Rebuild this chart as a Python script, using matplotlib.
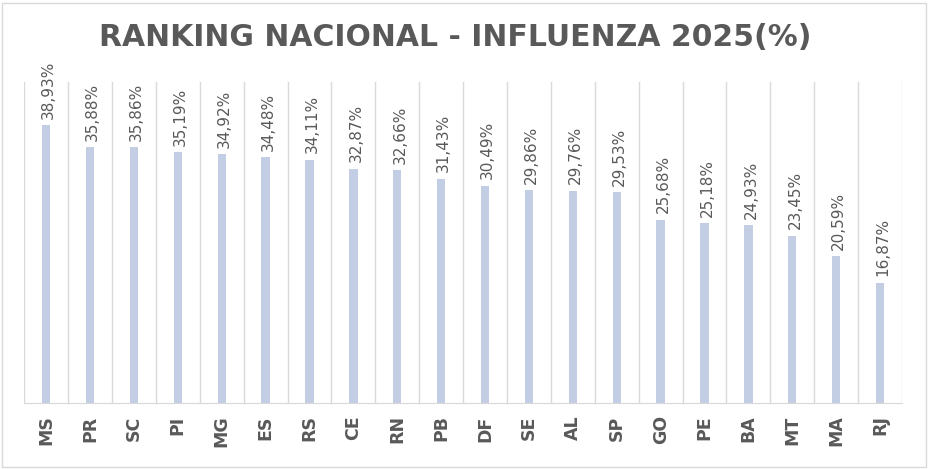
import matplotlib.pyplot as plt
from matplotlib.patches import Rectangle

estados = ['MS', 'PR', 'SC', 'PI', 'MG', 'ES', 'RS', 'CE', 'RN', 'PB',
           'DF', 'SE', 'AL', 'SP', 'GO', 'PE', 'BA', 'MT', 'MA', 'RJ']
valores = [38.93, 35.88, 35.86, 35.19, 34.92, 34.48, 34.11, 32.87, 32.66, 31.43,
           30.49, 29.86, 29.76, 29.53, 25.68, 25.18, 24.93, 23.45, 20.59, 16.87]

fig = plt.figure(figsize=(9.29, 4.69), dpi=100)
ax = fig.add_axes([0.026, 0.141, 0.945, 0.684])

x = range(len(estados))
ax.bar(x, valores, width=0.19, color='#c3cde3', zorder=2)

for i, v in zip(x, valores):
    txt = f'{v:.2f}'.replace('.', ',') + '%'
    ax.text(i + 0.06, v + 0.9, txt, rotation=90, ha='center', va='bottom',
            fontsize=11, color='#595959', family=['Liberation Sans Narrow', 'DejaVu Sans'])

ax.set_xlim(-0.5, len(estados) - 0.5)
ax.set_ylim(0, 45)
for b in range(len(estados) + 1):
    ax.axvline(b - 0.5, color='#d9d9d9', linewidth=1, zorder=1)

ax.set_xticks(list(x))
ax.set_xticklabels(estados, rotation=90, fontsize=12.5, fontweight='bold', color='#595959')
ax.tick_params(axis='x', length=0, pad=9)
ax.set_yticks([])
for s in ['top', 'right', 'left']:
    ax.spines[s].set_visible(False)
ax.spines['bottom'].set_color('#d9d9d9')

fig.text(0.49, 0.92, 'RANKING NACIONAL - INFLUENZA 2025(%)', ha='center', va='center',
         fontsize=21.5, fontweight='bold', color='#595959')
fig.patches.append(Rectangle((0.002, 0.004), 0.995, 0.99, transform=fig.transFigure,
                             fill=False, edgecolor='#d9d9d9', linewidth=1))

fig.savefig('out.png', dpi=100)
